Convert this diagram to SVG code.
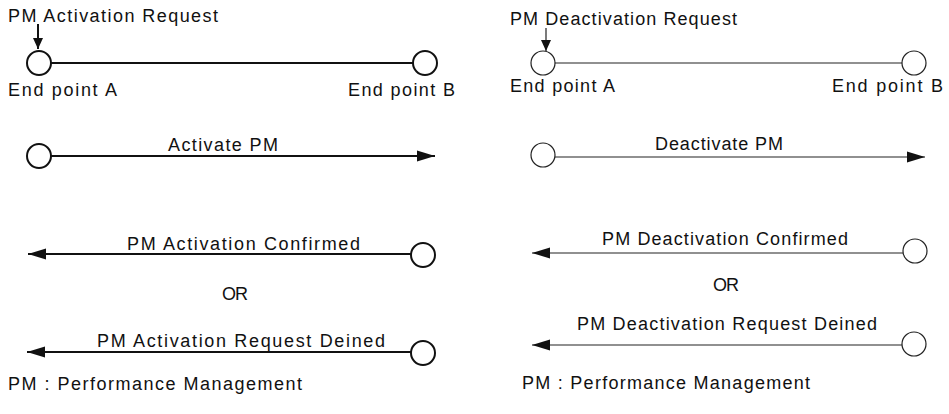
<svg xmlns="http://www.w3.org/2000/svg" width="949" height="414" viewBox="0 0 949 414">
<style>
text{font-family:"Liberation Sans",Arial,sans-serif;font-size:18px;fill:#111}
.nl{fill:#fff;stroke:#111;stroke-width:2}
.nr{fill:#fff;stroke:#222;stroke-width:1.2}
.cl{stroke:#111;stroke-width:2;fill:none}
.cr{stroke:#222;stroke-width:1.2;fill:none}
.ah{fill:#111;stroke:none}
</style>
<defs>
<marker id="arr" markerUnits="userSpaceOnUse" markerWidth="19" markerHeight="12" refX="18" refY="6" orient="auto">
<path d="M0,0.5 L18,6 L0,11.5 Z" class="ah"/>
</marker>
<marker id="ptr" markerUnits="userSpaceOnUse" markerWidth="11" markerHeight="12" refX="11" refY="5" orient="auto">
<path d="M0,0 L11,5 L0,10 Z" class="ah"/>
</marker>
</defs>

<g id="connectors">
<!-- left panel -->
<line class="cl" x1="38" y1="24" x2="38" y2="49" marker-end="url(#ptr)"/>
<line class="cl" x1="51" y1="63" x2="413" y2="63"/>
<line class="cl" x1="51" y1="156" x2="435" y2="156" marker-end="url(#arr)"/>
<line class="cl" x1="411" y1="254" x2="28" y2="254" marker-end="url(#arr)"/>
<line class="cl" x1="411" y1="352" x2="27" y2="352" marker-end="url(#arr)"/>
<!-- right panel -->
<line class="cr" x1="546" y1="28" x2="546" y2="51" marker-end="url(#ptr)"/>
<line class="cr" x1="555" y1="63" x2="902" y2="63"/>
<line class="cr" x1="555" y1="157" x2="925" y2="157" marker-end="url(#arr)"/>
<line class="cr" x1="903" y1="253" x2="532" y2="253" marker-end="url(#arr)"/>
<line class="cr" x1="902" y1="345" x2="532" y2="345" marker-end="url(#arr)"/>
</g>

<g id="left-endpoint-a"><circle class="nl" cx="39" cy="63" r="12"/></g>
<g id="left-endpoint-b"><circle class="nl" cx="425" cy="63" r="12"/></g>
<g id="left-activate-source"><circle class="nl" cx="39" cy="156" r="12"/></g>
<g id="left-confirmed-source"><circle class="nl" cx="423" cy="255" r="12"/></g>
<g id="left-denied-source"><circle class="nl" cx="423" cy="353" r="12"/></g>

<g id="right-endpoint-a"><circle class="nr" cx="543" cy="63" r="12"/></g>
<g id="right-endpoint-b"><circle class="nr" cx="914" cy="63" r="12"/></g>
<g id="right-deactivate-source"><circle class="nr" cx="543" cy="155" r="12"/></g>
<g id="right-confirmed-source"><circle class="nr" cx="915" cy="251" r="12"/></g>
<g id="right-denied-source"><circle class="nr" cx="914" cy="344" r="12"/></g>

<g id="labels-left">
<text x="8" y="22" textLength="210" lengthAdjust="spacing">PM Activation Request</text>
<text x="8" y="96" textLength="109" lengthAdjust="spacing">End point A</text>
<text x="348" y="96" textLength="107" lengthAdjust="spacing">End point B</text>
<text x="168" y="151" textLength="110" lengthAdjust="spacing">Activate PM</text>
<text x="127" y="250" textLength="233" lengthAdjust="spacing">PM Activation Confirmed</text>
<text x="222" y="300" textLength="26" lengthAdjust="spacing">OR</text>
<text x="97" y="347" textLength="288" lengthAdjust="spacing">PM Activation Request Deined</text>
<text x="8" y="390" textLength="294" lengthAdjust="spacing">PM : Performance Management</text>
</g>

<g id="labels-right">
<text x="510" y="25" textLength="227" lengthAdjust="spacing">PM Deactivation Request</text>
<text x="510" y="92" textLength="105" lengthAdjust="spacing">End point A</text>
<text x="832" y="92" textLength="111" lengthAdjust="spacing">End point B</text>
<text x="655" y="150" textLength="128" lengthAdjust="spacing">Deactivate PM</text>
<text x="602" y="245" textLength="246" lengthAdjust="spacing">PM Deactivation Confirmed</text>
<text x="713" y="291" textLength="26" lengthAdjust="spacing">OR</text>
<text x="577" y="330" textLength="300" lengthAdjust="spacing">PM Deactivation Request Deined</text>
<text x="522" y="389" textLength="288" lengthAdjust="spacing">PM : Performance Management</text>
</g>
</svg>
